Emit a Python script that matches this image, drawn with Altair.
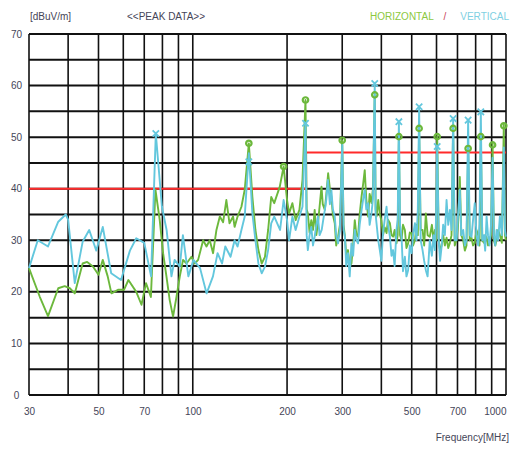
import altair as alt
import pandas as pd

# ---- data ----
green_freq = [30, 32.5, 34.5, 37.2, 39, 40.5, 42, 44.5, 46, 48, 50, 51.6, 53.5, 55, 57.7, 60.3, 62.3, 66,
              68.6, 70.9, 73.5, 76, 78.4, 80.4, 82.4, 84.4, 86.5, 88.7, 90.9, 93.1, 95.5, 99, 101.5, 104,
              107.9, 110.6, 113.3, 116.1, 119, 122, 125, 128, 131, 134.5, 136, 139, 143, 146.5, 151, 155,
              158.5, 162, 166, 170, 174, 178, 182, 189.6, 195, 200, 203, 208, 213, 219, 224,
              229, 231, 233, 236, 239, 242, 245, 248, 251, 254, 257.6, 260, 264, 267, 270.5, 274, 277, 280,
              284, 287, 291, 295, 300, 303, 306, 309, 313, 317, 321, 325, 329, 333, 337, 341, 345.7, 350,
              354, 358, 363, 367, 372, 376, 381, 383.5, 386, 391, 395.5, 400, 405, 410, 415.5, 420, 426,
              431, 436, 441, 447, 451, 455, 459, 464, 469, 475.5, 481, 487, 493, 499.5, 505, 512, 518,
              523, 528, 534, 541.5, 548, 554.7, 562, 571, 580, 587, 593, 598, 603, 610, 616, 623, 630,
              638, 646, 654, 662, 670, 678, 686, 695, 703, 712, 720, 730, 739, 748, 757, 766, 776, 785,
              795, 805, 815, 823, 831, 840, 850, 858, 867, 876, 886, 896, 906, 915, 924, 933, 944, 956,
              970, 984, 992, 999]
green_db = [24.6, 19, 15.3, 20.7, 21.1, 20.7, 19.7, 25.5, 25.8, 24.9, 23.3, 26.2, 23, 19.7, 20.4, 20.4,
            22.3, 20, 17.5, 21.7, 19, 39.8, 34, 27.5, 23, 18.4, 15.2, 19, 23, 26.2, 25.5, 26.8, 25.5, 26.2,
            30, 28.8, 30, 27.5, 32, 34.6, 33.5, 37.8, 33.3, 34.6, 32.6, 34.6, 36.5, 39.8, 48.8, 38.4,
            32, 28.1, 25.5, 26.8, 32, 38.4, 37.2, 40.4, 44.3, 37.8, 35.2, 37.2, 33.9, 35.9, 41.7,
            57.2, 36, 35.2, 31.5, 33.9, 32, 35.9, 31, 33.3, 36.5, 40.4, 37, 35.9, 39, 43, 40, 38.4, 35,
            33.3, 29, 30.7, 33, 49.4, 33, 30.7, 27, 28.1, 25, 25.5, 29, 33.9, 31, 30.7, 35, 38.4, 41,
            43.6, 38, 34.6, 39, 37.2, 40, 58.2, 36, 34.6, 37.8, 35, 33.9, 31, 32.5, 31.4, 34, 33.3,
            31, 30.7, 32, 29.4, 31, 50.1, 31, 30, 33, 32, 28.5, 29.4, 31.5, 31.4, 29, 30, 33,
            31, 51.5, 32, 32, 29, 35.2, 31, 30.7, 33, 30, 32, 30, 50.2, 30, 28, 29, 31,
            29, 30.5, 28.5, 29.5, 31, 51.7, 29, 30, 33, 42.3, 31, 30, 28, 29, 47.6, 30, 30.5, 29,
            29.5, 32, 31, 29, 50.1, 30, 29.5, 31, 30.5, 29, 29.4, 31, 48.8, 30, 29, 30, 32, 31,
            29.5, 52.4, 31, 30]

cyan_freq = [30, 32, 34.5, 37.2, 39.3, 40, 42, 44.5, 46.7, 49.2, 51.6, 54.9, 59, 60.3, 63, 66, 70, 73.6,
             76.2, 79.7, 82.5, 85.5, 87.5, 90.9, 93, 96.8, 100.5, 105.5, 110.7, 116, 120, 124, 127, 132,
             136, 139, 143, 146.5, 151, 155, 158.5, 162, 166, 170, 174, 178, 182, 190, 195, 200, 203, 208,
             213, 219, 224,
             229, 231, 233, 236, 239, 242, 245, 248, 251, 254, 258, 261, 264, 267, 270, 274, 277, 280,
             284, 287, 291, 295, 300, 303, 306, 309, 313, 317, 321, 325, 329, 333, 337, 341, 346, 350,
             354, 358, 363, 367, 372, 376, 381, 383.5, 386, 391, 395.5, 400, 405, 410, 415.5, 420, 426,
             431, 436, 441, 447, 451, 455, 459, 464, 469, 475.5, 481, 487, 493, 499.5, 505, 512, 518,
             523, 528, 534, 541.5, 548, 554.7, 562, 571, 580, 587, 593, 598, 603, 610, 616, 623, 630,
             638, 646, 654, 662, 670, 678, 686, 695, 703, 712, 720, 730, 739, 748, 757, 766, 776, 785,
             795, 805, 815, 823, 831, 840, 850, 858, 867, 876, 886, 896, 906, 915, 924, 933, 944, 956,
             970, 984, 992, 999]
cyan_db = [24.6, 30, 28.8, 33.6, 35, 34, 21.7, 29.7, 32, 28, 32.6, 23.6, 22.3, 24.2, 28, 30.4, 29.5, 23,
           50.7, 36.5, 32, 23, 26.2, 24.9, 31, 23, 26.2, 24.6, 19.7, 23, 27.5, 25.5, 28.8, 26.8, 30,
           28.8, 32, 34.6, 46.9, 35.2, 30, 25.5, 23.6, 24.9, 28.1, 33.3, 34.6, 32, 37.8, 33.9, 30, 34.6,
           32, 34.6, 36.5,
           52.7, 31, 28.1, 31, 32.6, 29, 30.7, 33, 34.6, 31, 32, 34, 35.9, 38, 41.7, 37, 39.8, 36,
           34.6, 31, 29.4, 32, 48.5, 32, 30.7, 25, 27.5, 23, 29.4, 27, 32, 30, 29.4, 33, 35.9, 38,
           39.8, 36, 37.2, 33, 35.2, 38, 60.4, 35, 33.3, 30, 28.1, 26, 31.4, 34, 36.5, 33, 30.7,
           27, 28.1, 25, 32, 34, 53, 33, 30.7, 24, 26.8, 23, 24.2, 29, 27.5, 31, 33.3, 30,
           36, 55.9, 30, 28.1, 26, 24.2, 23, 30, 27, 31, 28.1, 34, 48.2, 30, 26, 28.8, 33,
           31, 37.8, 33, 35.9, 32, 53.6, 30, 30, 35, 39.8, 31, 32, 29, 30, 53.3, 31, 30.7, 34,
           37.2, 31, 29, 33, 54.9, 30, 31, 28, 34.6, 31, 29, 33, 46, 31, 29, 32, 30, 34.6,
           31, 48, 32, 30.7]

limit_freq = [30, 230, 230, 1000]
limit_db = [40, 40, 47, 47]

hpeak_freq = [151, 195, 229, 300, 381, 455, 528, 603, 678, 757, 831, 906, 984]
hpeak_db = [48.8, 44.3, 57.2, 49.4, 58.2, 50.1, 51.7, 50.1, 51.7, 47.8, 50.1, 48.5, 52.2]

vpeak_freq = [76.2, 151, 229, 381, 455, 528, 603, 678, 757, 831]
vpeak_db = [50.7, 45.2, 52.7, 60.4, 53, 55.9, 48.2, 53.6, 53.3, 54.9]

x_grid = [30, 40, 50, 60, 70, 80, 90, 100, 200, 300, 400, 500, 600, 700, 800, 900, 1000]
x_labels = [30, 50, 70, 100, 200, 300, 500, 700, 1000]
y_ticks = list(range(0, 71, 5))

GREEN = "#6cb83c"
CYAN = "#63c7dd"
RED = "#ff2a2a"
LABEL = "#454558"
FONT = "Liberation Sans"

xscale = alt.Scale(type="log", domain=[30, 1000], nice=False)
yscale = alt.Scale(domain=[0, 70], nice=False, zero=False)

xaxis = alt.Axis(values=x_labels, grid=False, ticks=False, tickSize=0, domain=False,
                 labelFont=FONT, labelFontSize=10, labelColor=LABEL, labelPadding=11,
                 labelAlign={"condition": {"test": "datum.value == 1000", "value": "right"}, "value": "center"},
                 title=None, format="d")
yaxis = alt.Axis(values=y_ticks, grid=False, ticks=False, tickSize=0, domain=False,
                 labelFont=FONT, labelFontSize=10, labelColor=LABEL, labelPadding=13,
                 labelAlign="center", title=None)

hgrid = alt.Chart(pd.DataFrame({"y": y_ticks})).mark_rule(color="#111", strokeWidth=2).encode(
    y=alt.Y("y:Q", scale=yscale, axis=yaxis))
vgrid = alt.Chart(pd.DataFrame({"x": x_grid})).mark_rule(color="#111", strokeWidth=1.6).encode(
    x=alt.X("x:Q", scale=xscale, axis=xaxis))

limit_df = pd.DataFrame({"f": limit_freq, "db": limit_db, "i": range(len(limit_freq))})
limit = alt.Chart(limit_df).mark_line(color=RED, strokeWidth=2).encode(
    x=alt.X("f:Q", scale=xscale), y=alt.Y("db:Q", scale=yscale), order="i:Q")

gline = alt.Chart(pd.DataFrame({"f": green_freq, "db": green_db})).mark_line(
    color=GREEN, strokeWidth=1.9, strokeJoin="round").encode(
    x=alt.X("f:Q", scale=xscale), y=alt.Y("db:Q", scale=yscale))
cline = alt.Chart(pd.DataFrame({"f": cyan_freq, "db": cyan_db})).mark_line(
    color=CYAN, strokeWidth=1.9, strokeJoin="round").encode(
    x=alt.X("f:Q", scale=xscale), y=alt.Y("db:Q", scale=yscale))

gpk = alt.Chart(pd.DataFrame({"f": hpeak_freq, "db": hpeak_db})).mark_point(
    shape="circle", filled=False, color=GREEN, size=30, strokeWidth=2.2, opacity=1).encode(
    x=alt.X("f:Q", scale=xscale), y=alt.Y("db:Q", scale=yscale))
cpk = alt.Chart(pd.DataFrame({"f": vpeak_freq, "db": vpeak_db})).mark_point(
    shape="M-1,-1L1,1M-1,1L1,-1", filled=False, color=CYAN, size=40, strokeWidth=1.8, opacity=1).encode(
    x=alt.X("f:Q", scale=xscale), y=alt.Y("db:Q", scale=yscale))


def label(txt, x, y, color, align="left", size=10):
    return alt.Chart(pd.DataFrame({"t": [txt]})).mark_text(
        align=align, baseline="middle", font=FONT, fontSize=size, color=color).encode(
        x=alt.value(x), y=alt.value(y), text="t:N")


texts = [
    label("[dBuV/m]", 1, -17, LABEL),
    label("<<PEAK DATA>>", 98, -17, LABEL),
    label("HORIZONTAL", 341, -17, "#8cc840"),
    label("/", 416, -17, "#c8405a", "center"),
    label("VERTICAL", 480, -17, "#7fd0e2", "right"),
    label("Frequency[MHz]", 480, 404, LABEL, "right"),
]

chart = alt.layer(hgrid, vgrid, limit, gline, cline, gpk, cpk, *texts).properties(
    width=477, height=361,
    autosize=alt.AutoSizeParams(type="none"),
    padding={"left": 29, "top": 34, "right": 5, "bottom": 55},
    background="white",
).configure_view(stroke=None)

chart.save("out.html", embed_options={"renderer": "svg", "actions": False})
